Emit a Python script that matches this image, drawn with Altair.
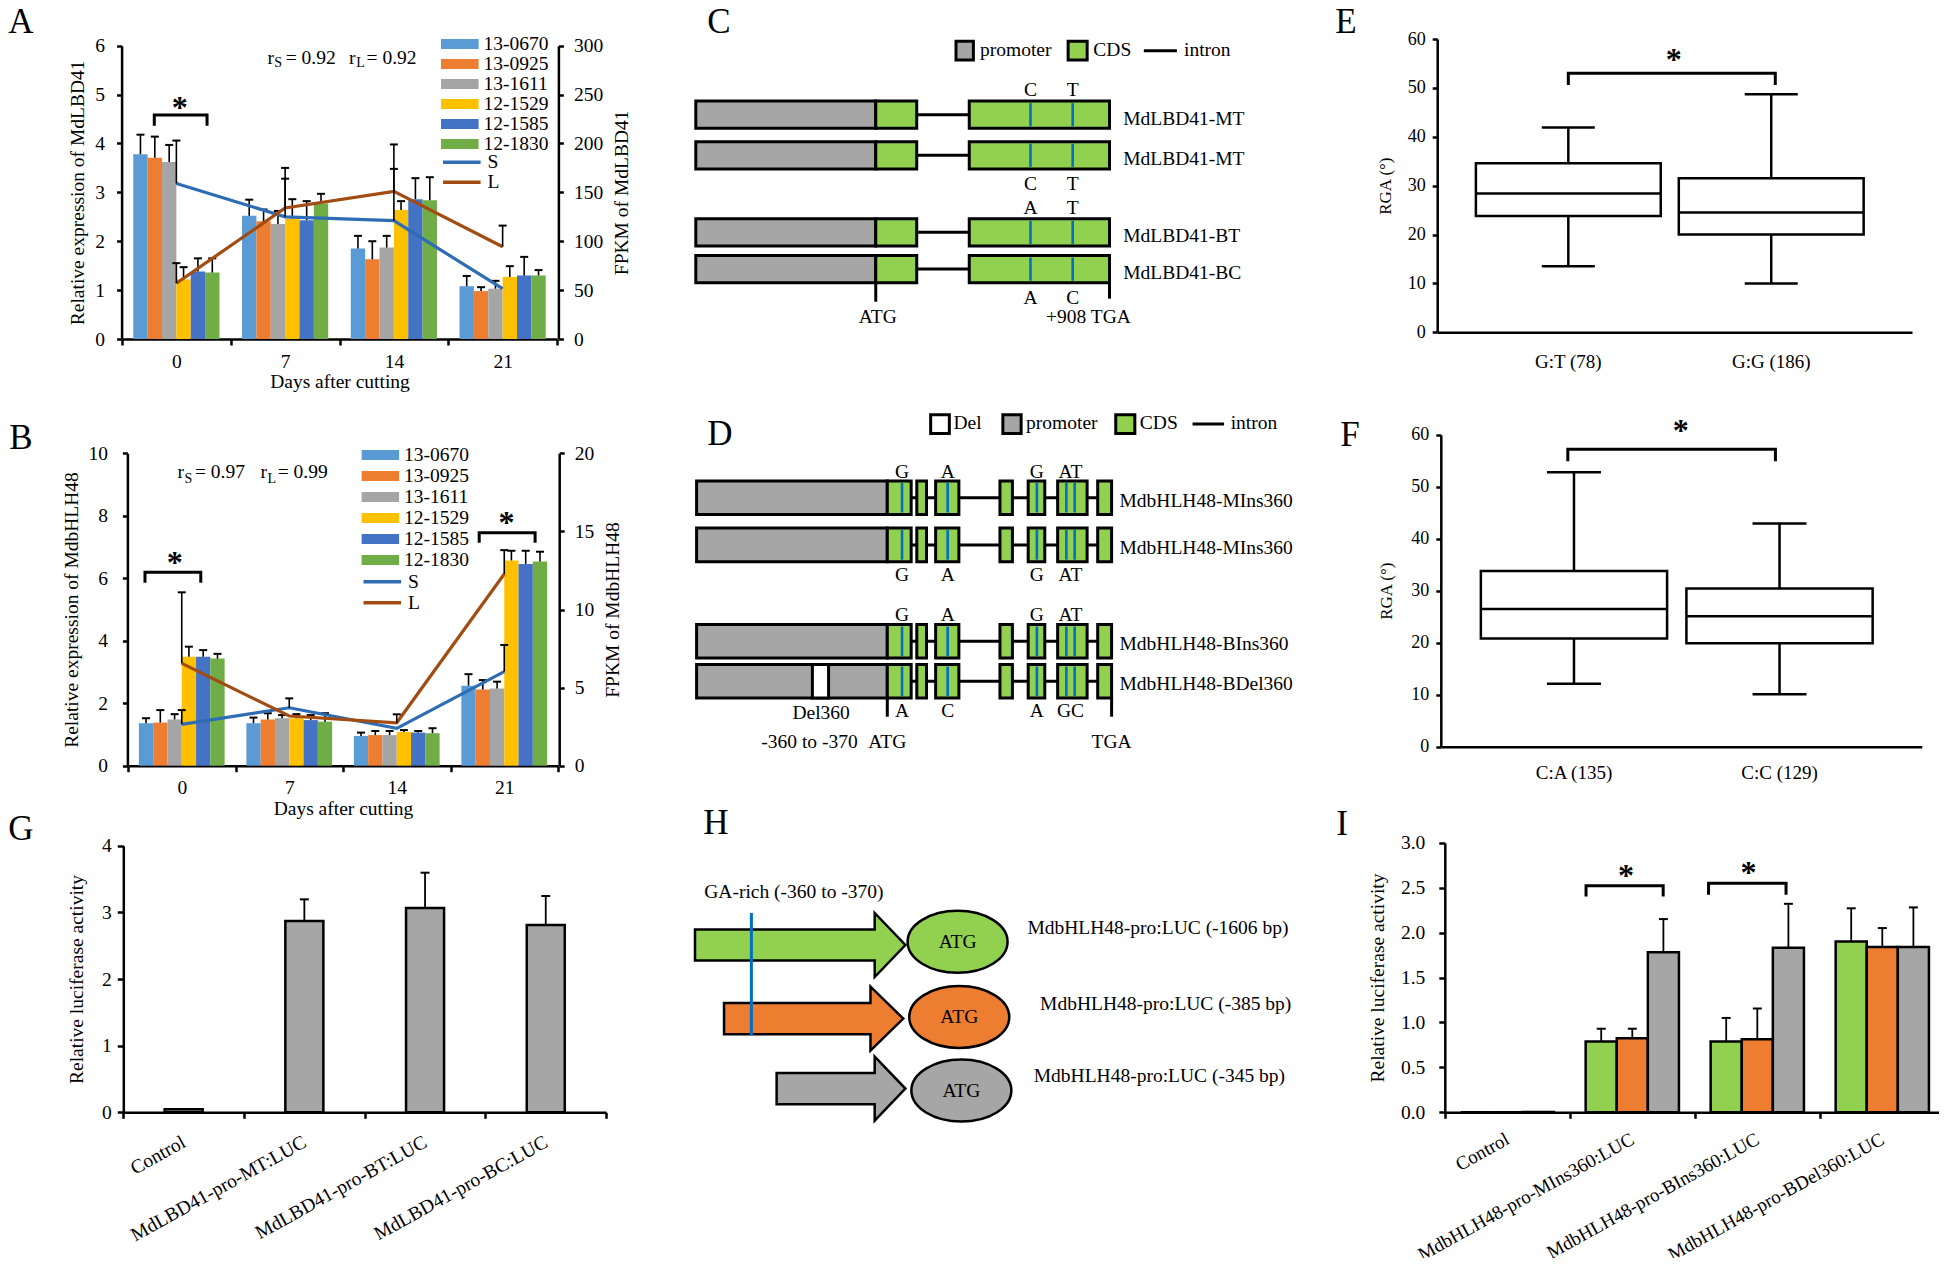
import altair as alt
import pandas as pd

# ======================= chart values =======================
days = ["0", "7", "14", "21"]
cultivars = ["13-0670", "13-0925", "13-1611", "12-1529", "12-1585", "12-1830"]
cultivar_colors = ["#5B9BD5", "#ED7D31", "#A5A5A5", "#FFC000", "#4472C4", "#70AD47"]
fpkm_series = ["S", "L"]
fpkm_colors = ["#2E6DB4", "#A34C12"]

# Panel A (rows = days, columns = cultivars)
a_expr = [
    [3.78, 3.71, 3.62, 1.22, 1.38, 1.36],
    [2.52, 2.41, 2.35, 2.46, 2.43, 2.77],
    [1.85, 1.63, 1.87, 2.64, 2.86, 2.84],
    [1.08, 0.98, 1.03, 1.27, 1.30, 1.30],
]
a_expr_top = [
    [4.18, 4.14, 3.97, 1.47, 1.65, 1.65],
    [2.85, 2.65, 2.62, 2.86, 2.82, 2.97],
    [2.11, 2.00, 2.11, 2.82, 3.29, 3.31],
    [1.29, 1.06, 1.19, 1.49, 1.68, 1.41],
]
a_fpkm_S = [159, 125, 121, 51.5]
a_fpkm_L = [57, 134, 151, 94.4]
a_fpkm_S_top = [203, 164, 174, None]
a_fpkm_L_top = [77.6, 175, 199, 116]
a_r = ["0.92", "0.92"]

# Panel B
b_expr = [
    [1.36, 1.38, 1.48, 3.49, 3.49, 3.43],
    [1.36, 1.48, 1.52, 1.52, 1.46, 1.41],
    [0.95, 0.98, 0.98, 1.08, 1.06, 1.04],
    [2.56, 2.44, 2.47, 6.57, 6.46, 6.54],
]
b_expr_top = [
    [1.52, 1.78, 1.65, 3.81, 3.70, 3.58],
    [1.54, 1.68, 1.62, 1.65, 1.62, 1.68],
    [1.06, 1.11, 1.11, 1.14, 1.11, 1.20],
    [2.93, 2.74, 2.69, 6.88, 6.88, 6.85],
]
b_fpkm_S = [2.65, 3.71, 2.39, 6.02]
b_fpkm_L = [6.55, 3.18, 2.75, 12.27]
b_fpkm_S_top = [3.56, 4.31, None, 7.73]
b_fpkm_L_top = [11.1, None, 3.29, 13.8]
b_r = ["0.97", "0.99"]

# Panel E / F box plots (RGA, degrees)
e_groups = ["G:T (78)", "G:G (186)"]
e_low = [13.5, 10.0]
e_q1 = [23.8, 20.0]
e_median = [28.4, 24.5]
e_q3 = [34.6, 31.5]
e_high = [41.9, 48.7]

f_groups = ["C:A  (135)", "C:C (129)"]
f_low = [12.1, 10.1]
f_q1 = [20.8, 19.9]
f_median = [26.5, 25.1]
f_q3 = [33.8, 30.4]
f_high = [52.8, 42.9]

# Panel G
g_constructs = ["Control", "MdLBD41-pro-MT:LUC", "MdLBD41-pro-BT:LUC", "MdLBD41-pro-BC:LUC"]
g_activity = [0.045, 2.87, 3.065, 2.81]
g_activity_top = [None, 3.195, 3.595, 3.245]

# Panel I
i_constructs = ["Control", "MdbHLH48-pro-MIns360:LUC", "MdbHLH48-pro-BIns360:LUC",
                "MdbHLH48-pro-BDel360:LUC"]
i_fragments = ["-1606 bp", "-385 bp", "-345 bp"]
i_colors = ["#92D050", "#ED7D31", "#A6A6A6"]
i_activity = [[0.0, 0.0, 0.004], [0.787, 0.824, 1.78], [0.787, 0.813, 1.83], [1.90, 1.84, 1.84]]
i_activity_top = [[None, None, None], [0.93, 0.93, 2.15], [1.05, 1.155, 2.32], [2.27, 2.05, 2.28]]

# Panel C gene models (schematic units: 0 = promoter start, 100 = TGA)
c_names = ["MdLBD41-MT", "MdLBD41-MT", "MdLBD41-BT", "MdLBD41-BC"]
c_row_pos = [0.0, 1.015, 2.94, 3.86]
c_segments = [("promoter", 0, 43.5), ("CDS", 43.5, 53.4), ("CDS", 66.1, 100)]
c_introns = [(53.4, 66.1)]
c_snp_pos = [80.9, 91.1]
c_snp_alleles = [("C", "T"), ("C", "T"), ("A", "T"), ("A", "C")]
c_snp_side = [-1, 1, -1, 1]

# Panel D gene models
d_names = ["MdbHLH48-MIns360", "MdbHLH48-MIns360", "MdbHLH48-BIns360", "MdbHLH48-BDel360"]
d_row_pos = [0.0, 1.18, 3.59, 4.59]
d_segments = [("promoter", 0, 45.95), ("CDS", 45.95, 51.7), ("CDS", 53.06, 55.4),
              ("CDS", 57.6, 63.2), ("CDS", 73.1, 76.1), ("CDS", 79.9, 83.9),
              ("CDS", 87.0, 94.1), ("CDS", 96.65, 100)]
d_introns = [(51.7, 96.65)]
d_snp_pos = [49.5, 60.5, 82.0, 89.1, 91.1]
d_snp_label_pos = [49.5, 60.5, 82.0, 90.1]
d_snp_alleles = [("G", "A", "G", "AT"), ("G", "A", "G", "AT"), ("G", "A", "G", "AT"), ("A", "C", "A", "GC")]
d_snp_side = [-1, 1, -1, 1]
d_deletion = [(3, 27.9, 31.8)]

# Panel H promoter constructs
h_constructs = ["MdbHLH48-pro:LUC (-1606 bp)", "MdbHLH48-pro:LUC (-385 bp)", "MdbHLH48-pro:LUC (-345 bp)"]
h_start = [0, 13.8, 38.8]
h_colors = ["#92D050", "#ED7D31", "#A6A6A6"]

panel_letters = ["A", "B", "C", "D", "E", "F", "G", "H", "I"]

# ======================= layout =======================
M = 8
W, H = 1931, 1250
FONT = "Liberation Serif"
FS = 19.5
GREY = "#A6A6A6"
GREEN = "#92D050"
SNP_BLUE = "#0070C0"
diag_fill = {"promoter": GREY, "CDS": GREEN, "Del": "#FFFFFF"}


def p(v):
    return v - M


def qscale(domain, r0, r1):
    return alt.Scale(domain=domain, range=[p(r0), p(r1)], nice=False, zero=False)


def bscale(domain, r0, r1, po=0.0, align=0.5):
    return alt.Scale(domain=domain, range=[p(r0), p(r1)], paddingInner=0, paddingOuter=po, align=align)


def X(field, scale, axis=None):
    return alt.X(field, scale=scale, axis=axis)


def Y(field, scale, axis=None):
    return alt.Y(field, scale=scale, axis=axis)


def text_layer(rows, xs, ys, align="center", size=FS, baseline="middle", **kw):
    df = pd.DataFrame(rows, columns=["x", "y", "t"])
    return alt.Chart(df).mark_text(font=FONT, fontSize=size, align=align, baseline=baseline,
                                   color="black", **kw).encode(
        x=X("x:Q", xs), y=Y("y:Q", ys), text="t:N")


def bracket_layer(brackets, xs, ys):
    rows = []
    for i, (x1, x2, yt, yl) in enumerate(brackets):
        for j, (bx, by) in enumerate([(x1, yl), (x1, yt), (x2, yt), (x2, yl)]):
            rows.append(dict(id=i, o=j, bx=bx, by=by))
    return alt.Chart(pd.DataFrame(rows)).mark_line(color="black", strokeWidth=3).encode(
        x=X("bx:Q", xs), y=Y("by:Q", ys), detail="id:N", order="o:Q")


def star_layer(stars, xs, ys):
    df = pd.DataFrame(stars, columns=["x", "y"])
    return alt.Chart(df).mark_text(text="*", font=FONT, fontSize=32, fontWeight="bold",
                                   baseline="middle", dy=6, color="black").encode(
        x=X("x:Q", xs), y=Y("y:Q", ys))


RECT_SYM = "M-1,-0.266H1V0.266H-1Z"
SYM = 37.6


def expr_panel(expr, top, fS, fL, fS_top, fL_top, r, L):
    xr, yr = L["xr"], L["yr"]
    step = (xr[1] - xr[0]) / 4
    xs = bscale(days, xr[0], xr[1])
    xos = alt.Scale(domain=cultivars, range=[0, step], paddingInner=0, paddingOuter=L["po"])
    ys = qscale([0, L["ymax"]], yr[0], yr[1])
    rs = qscale([0, L["rmax"]], yr[0], yr[1])
    qx = qscale([-0.5, 3.5], xr[0], xr[1])
    df = pd.DataFrame([dict(day=d, cultivar=c, value=expr[i][j], top=top[i][j])
                       for i, d in enumerate(days) for j, c in enumerate(cultivars)])
    xna = X("day:N", xs)
    xo = alt.XOffset("cultivar:N", scale=xos)
    out = []
    out.append(alt.Chart(df).mark_bar().encode(
        x=X("day:N", xs, alt.Axis(orient="bottom", offset=p(yr[0]) - H, title="Days after cutting",
                                  tickBand="extent", labelAngle=0, tickSize=6, labelPadding=7,
                                  titlePadding=2)),
        xOffset=xo,
        y=Y("value:Q", ys, alt.Axis(orient="left", offset=-p(L["lx"]), title=L["ytitle"],
                                    values=L["yvals"], tickSize=5, labelPadding=L["llp"],
                                    titlePadding=L["ltp"])),
        color=alt.Color("cultivar:N", scale=alt.Scale(domain=cultivars, range=cultivar_colors),
                        legend=alt.Legend(orient="none", legendX=p(L["legx"]), legendY=p(L["legy"]),
                                          title=None, symbolType=RECT_SYM, symbolSize=SYM ** 2,
                                          symbolStrokeWidth=0, labelOffset=4.6, clipHeight=L["rowh"],
                                          rowPadding=L["rowpad"], padding=0)),
    ))
    out.append(alt.Chart(df).mark_rule(color="black", strokeWidth=1.6).encode(
        x=xna, xOffset=xo, y=Y("value:Q", ys), y2="top:Q"))
    out.append(alt.Chart(df).mark_tick(color="black", orient="horizontal", size=8, thickness=2,
                                       opacity=1).encode(
        x=xna, xOffset=xo, y=Y("top:Q", ys)))
    dfl = pd.DataFrame([dict(day=d, i=k, series=s, fpkm=v)
                        for s, vals in (("S", fS), ("L", fL)) for k, (d, v) in enumerate(zip(days, vals))])
    out.append(alt.Chart(dfl).mark_line(strokeWidth=3.2).encode(
        x=xna,
        y=Y("fpkm:Q", rs, alt.Axis(orient="right", offset=p(L["rx"]) - W, title=L["rtitle"],
                                   titleAngle=270, titleBaseline="top", values=L["rvals"],
                                   tickSize=5, labelPadding=10, titlePadding=L["rtp"])),
        color=alt.Color("series:N", scale=alt.Scale(domain=fpkm_series, range=fpkm_colors),
                        legend=alt.Legend(orient="none", legendX=p(L["legx"]), legendY=p(L["legy2"]),
                                          title=None, symbolType="stroke", symbolSize=SYM ** 2,
                                          symbolStrokeWidth=3.5, labelOffset=4.6, clipHeight=L["rowh"],
                                          rowPadding=L["rowpad"], padding=0)),
        order="i:Q",
    ))
    dfe = pd.DataFrame([dict(day=d, fpkm=v, top=t)
                        for vals, tops in ((fS, fS_top), (fL, fL_top))
                        for d, v, t in zip(days, vals, tops) if t is not None])
    out.append(alt.Chart(dfe).mark_rule(color="black", strokeWidth=1.6).encode(
        x=xna, y=Y("fpkm:Q", rs), y2="top:Q"))
    out.append(alt.Chart(dfe).mark_tick(color="black", orient="horizontal", size=8, thickness=2,
                                        opacity=1).encode(x=xna, y=Y("top:Q", rs)))
    out.append(bracket_layer(L["brackets"], qx, ys))
    out.append(star_layer(L["stars"], qx, ys))
    ax, ay, sy = L["ann"]
    out.append(text_layer([(ax[0], ay, "r"), (ax[2], ay, "= " + r[0]), (ax[3], ay, "r"),
                           (ax[5], ay, "= " + r[1])], qx, ys, align="left"))
    out.append(text_layer([(ax[1], sy, "S"), (ax[4], sy, "L")], qx, ys, align="left", size=14))
    return out


LAY_A = dict(xr=(122, 557), yr=(339.0, 45.7), lx=121.6, rx=558.4, ymax=6, yvals=list(range(7)),
             rmax=300, rvals=list(range(0, 301, 50)), po=0.785, legx=440.8, legy=34.4, legy2=152.5,
             rowh=19.3, rowpad=-1.6, llp=12, ltp=7, rtp=10,
             ytitle="Relative expression of MdLBD41", rtitle="FPKM of MdLBD41",
             brackets=[(-0.203, 0.282, 4.58, 4.36)], stars=[(0.03, 4.85)],
             ann=([0.837, 0.90, 1.005, 1.587, 1.654, 1.749], 5.75, 5.64))
LAY_B = dict(xr=(128, 558), yr=(765.7, 453.3), lx=127.4, rx=559.2, ymax=10, yvals=[0, 2, 4, 6, 8, 10],
             rmax=20, rvals=[0, 5, 10, 15, 20], po=0.76, legx=361.3, legy=444.5, legy2=571.2,
             rowh=21, rowpad=0, llp=15, ltp=6, rtp=10,
             ytitle="Relative expression of MdbHLH48", rtitle="FPKM of MdbHLH48",
             brackets=[(-0.342, 0.177, 6.19, 5.86), (2.767, 3.287, 7.46, 7.14)],
             stars=[(-0.066, 6.69), (3.02, 7.97)],
             ann=([-0.039, 0.026, 0.123, 0.732, 0.797, 0.892], 9.40, 9.17))


def band_centers(r0, r1, n, po, align):
    step = (r1 - r0) / (n + 2 * po)
    start = r0 + (r1 - r0 - step * n) * align
    return [start + step * (k + 0.5) for k in range(n)], step


def box_panel(groups, low, q1, med, q3, high, L):
    xr, yr = L["xr"], L["yr"]
    xs = bscale(groups, xr[0], xr[1], L["po"], L["align"])
    centers, step = band_centers(xr[0], xr[1], 2, L["po"], L["align"])
    qx = qscale([0, 1], centers[0], centers[1])
    ys = qscale([0, 60], yr[0], yr[1])
    df = pd.DataFrame(dict(g=groups, low=low, q1=q1, med=med, q3=q3, high=high))
    xna = X("g:N", xs)
    out = [
        alt.Chart(df).mark_rule(color="black", strokeWidth=2.5).encode(
            x=xna, y=Y("low:Q", ys), y2="high:Q"),
        alt.Chart(df).mark_bar(fill="white", stroke="black", strokeWidth=2.5,
                               width=alt.RelativeBandSize(L["bw"])).encode(
            x=X("g:N", xs, alt.Axis(orient="bottom", offset=p(yr[0]) - H, title=None, ticks=False,
                                    labelAngle=0, labelPadding=L["lp"], labelFontSize=19)),
            y=Y("q1:Q", ys, alt.Axis(orient="left", offset=-p(xr[0]), title="RGA (°)",
                                     titleFontSize=17, values=list(range(0, 61, 10)), tickSize=5,
                                     labelPadding=7, titlePadding=L["tp"], labelFontSize=18)),
            y2="q3:Q"),
        alt.Chart(df).mark_tick(color="black", orient="horizontal", size=L["cap"], thickness=2.5,
                                opacity=1).encode(x=xna, y=Y("low:Q", ys)),
        alt.Chart(df).mark_tick(color="black", orient="horizontal", size=L["cap"], thickness=2.5,
                                opacity=1).encode(x=xna, y=Y("high:Q", ys)),
        alt.Chart(df).mark_tick(color="black", orient="horizontal", size=L["bw"] * step,
                                thickness=2.5, opacity=1).encode(x=xna, y=Y("med:Q", ys)),
        bracket_layer(L["brackets"], qx, ys),
        star_layer(L["stars"], qx, ys),
    ]
    return out


LAY_E = dict(xr=(1437.2, 1912), yr=(332.3, 39), po=0.17, align=0.43, bw=0.911, cap=53, lp=20, tp=13,
             brackets=[(0, 1.02, 53.0, 50.6)], stars=[(0.52, 57.0)])
LAY_F = dict(xr=(1440.8, 1921.8), yr=(746.7, 434.7), po=0.17, align=0.435, bw=0.906, cap=54, lp=17,
             tp=15, brackets=[(-0.03, 0.98, 57.2, 54.9)], stars=[(0.52, 61.9)])


def luc_axis_x(yb, size=FS, pad=22):
    return alt.Axis(orient="bottom", offset=p(yb) - H, title=None, tickBand="extent", labelAngle=331,
                    labelAlign="right", labelBaseline="middle", labelPadding=pad, tickSize=6,
                    labelFontSize=size)


def g_panel():
    xr, yr = (123.3, 606.1), (1112.3, 845.7)
    xs = bscale(g_constructs, xr[0], xr[1])
    ys = qscale([0, 4], yr[0], yr[1])
    df = pd.DataFrame(dict(cat=g_constructs, value=g_activity))
    dfe = pd.DataFrame([dict(cat=c, value=v, top=t) for c, v, t in
                        zip(g_constructs, g_activity, g_activity_top) if t is not None])
    xna = X("cat:N", xs)
    return [
        alt.Chart(df).mark_bar(color=GREY, stroke="black", strokeWidth=2.5,
                               width=alt.RelativeBandSize(0.315)).encode(
            x=X("cat:N", xs, luc_axis_x(yr[0])),
            y=Y("value:Q", ys, alt.Axis(orient="left", offset=-p(xr[0]),
                                        title="Relative luciferase activity", values=[0, 1, 2, 3, 4],
                                        tickSize=6, labelPadding=6, titlePadding=15))),
        alt.Chart(dfe).mark_rule(color="black", strokeWidth=1.8).encode(
            x=xna, y=Y("value:Q", ys), y2="top:Q"),
        alt.Chart(dfe).mark_tick(color="black", orient="horizontal", size=9, thickness=2,
                                 opacity=1).encode(x=xna, y=Y("top:Q", ys)),
    ]


def i_panel():
    xr, yr = (1444.8, 1944.8), (1112.3, 842.7)
    step = (xr[1] - xr[0]) / 4
    xs = bscale(i_constructs, xr[0], xr[1])
    xos = alt.Scale(domain=i_fragments, range=[0, step], paddingInner=0, paddingOuter=0.51)
    ys = qscale([0, 3], yr[0], yr[1])
    qx = qscale([-0.5, 3.5], xr[0], xr[1])
    df = pd.DataFrame([dict(cat=c, frag=f, value=i_activity[a][b], top=i_activity_top[a][b])
                       for a, c in enumerate(i_constructs) for b, f in enumerate(i_fragments)])
    dfe = df.dropna()
    xna = X("cat:N", xs)
    xo = alt.XOffset("frag:N", scale=xos)
    return [
        alt.Chart(df).mark_bar(stroke="black", strokeWidth=2.5).encode(
            x=X("cat:N", xs, luc_axis_x(yr[0], size=19, pad=19)), xOffset=xo,
            y=Y("value:Q", ys, alt.Axis(orient="left", offset=-p(xr[0]),
                                        title="Relative luciferase activity",
                                        values=[0, 0.5, 1, 1.5, 2, 2.5, 3], format=".1f",
                                        tickSize=6, labelPadding=14, titlePadding=13)),
            color=alt.Color("frag:N", scale=alt.Scale(domain=i_fragments, range=i_colors), legend=None)),
        alt.Chart(dfe).mark_rule(color="black", strokeWidth=1.8).encode(
            x=xna, xOffset=xo, y=Y("value:Q", ys), y2="top:Q"),
        alt.Chart(dfe).mark_tick(color="black", orient="horizontal", size=9, thickness=2,
                                 opacity=1).encode(x=xna, xOffset=xo, y=Y("top:Q", ys)),
        bracket_layer([(0.63, 1.247, 2.52, 2.40), (1.61, 2.23, 2.55, 2.42)], qx, ys),
        star_layer([(0.95, 2.70), (1.93, 2.73)], qx, ys),
    ]


def gene_panel(names, row_pos, segments, introns, snp_pos, snp_label_pos, alleles, sides, L,
               deletions=()):
    xs = qscale([0, 100], L["xr"][0], L["xr"][1])
    ys = qscale(L["ydom"], L["yr"][0], L["yr"][1])
    half = L["half"]
    rects, rules, snps, allele_txt, name_txt = [], [], [], [], []
    for r, (nm, yc) in enumerate(zip(names, row_pos)):
        for kind, x0, x1 in segments:
            rects.append(dict(x0=x0, x1=x1, y0=yc - half, y1=yc + half, fill=diag_fill[kind]))
        for ri, x0, x1 in deletions:
            if ri == r:
                rects.append(dict(x0=x0, x1=x1, y0=yc - half, y1=yc + half, fill=diag_fill["Del"]))
        for x0, x1 in introns:
            rules.append(dict(x0=x0, x1=x1, y=yc))
        for sx in snp_pos:
            snps.append(dict(x=sx, y0=yc - half + 0.05, y1=yc + half - 0.05))
        ly = yc + (L["above"] if sides[r] < 0 else L["below"])
        for sx, a in zip(snp_label_pos, alleles[r]):
            allele_txt.append((sx, ly, a))
        name_txt.append((L["name_x"], yc + L["name_dy"], nm))
    # legend swatches drawn in the diagram
    for kind, x0, x1 in L["leg_boxes"]:
        rects.append(dict(x0=x0, x1=x1, y0=L["leg_y"] - L["leg_h"], y1=L["leg_y"] + L["leg_h"],
                          fill=diag_fill[kind]))
    rules.append(dict(x0=L["leg_line"][0], x1=L["leg_line"][1], y=L["leg_y"]))
    df_r = pd.DataFrame(rules)
    df_rect = pd.DataFrame(rects)
    df_snp = pd.DataFrame(snps)
    df_tick = pd.DataFrame(L["ticks"], columns=["x", "y0", "y1"])
    return [
        alt.Chart(df_r).mark_rule(color="black", strokeWidth=3).encode(
            x=X("x0:Q", xs), x2="x1:Q", y=Y("y:Q", ys)),
        alt.Chart(df_rect).mark_rect(stroke="black", strokeWidth=3).encode(
            x=X("x0:Q", xs), x2="x1:Q", y=Y("y0:Q", ys), y2="y1:Q",
            color=alt.Color("fill:N", scale=None)),
        alt.Chart(df_snp).mark_rule(color=SNP_BLUE, strokeWidth=2.6).encode(
            x=X("x:Q", xs), y=Y("y0:Q", ys), y2="y1:Q"),
        alt.Chart(df_tick).mark_rule(color="black", strokeWidth=3).encode(
            x=X("x:Q", xs), y=Y("y0:Q", ys), y2="y1:Q"),
        text_layer(allele_txt, xs, ys),
        text_layer(name_txt, xs, ys, align="left"),
        text_layer(L["leg_text"], xs, ys, align="left"),
        text_layer(L["bottom_text"], xs, ys),
    ]


LAY_C = dict(xr=(695.8, 1109.5), yr=(34.7, 334.7), ydom=[-2, 5.5], half=0.34, above=-0.62, below=0.72,
             name_x=103.3, name_dy=0.1,
             leg_boxes=[("promoter", 62.9, 67.1), ("CDS", 90.0, 94.6)], leg_y=-1.6, leg_h=0.235,
             leg_line=(108.3, 116.3),
             leg_text=[(68.7, -1.62, "promoter"), (96.1, -1.62, "CDS"), (118.0, -1.62, "intron")],
             ticks=[(43.5, 4.2, 4.675), (100, 4.2, 4.6)],
             bottom_text=[(44.0, 5.05, "ATG"), (94.9, 5.05, "+908 TGA")])
LAY_D = dict(xr=(696.6, 1111.6), yr=(397.7, 761.7), ydom=[-2.5, 6.6], half=0.42, above=-0.65,
             below=0.75, name_x=101.9, name_dy=0.07,
             leg_boxes=[("Del", 56.4, 60.9), ("promoter", 73.8, 78.2), ("CDS", 101.0, 105.6)],
             leg_y=-1.84, leg_h=0.235, leg_line=(119.5, 127.1),
             leg_text=[(61.9, -1.86, "Del"), (79.4, -1.86, "promoter"), (106.8, -1.86, "CDS"),
                       (128.7, -1.86, "intron")],
             ticks=[(45.95, 5.0, 5.475), (100, 5.0, 5.475)],
             bottom_text=[(30.0, 5.375, "Del360"), (27.2, 6.1, "-360 to -370"), (45.95, 6.1, "ATG"),
                          (100, 6.1, "TGA")])

ELLIPSE = "M-1,0A1,0.62,0,1,0,1,0A1,0.62,0,1,0,-1,0Z"


def h_panel():
    xs = qscale([0, 100], 695, 905.4)
    ys = qscale([-3.5, 5], 805, 1145)
    base = [85.4, 83.4, 85.4]
    tip = [100, 99.0, 100]
    row_y = [0, 1.84, 3.59]
    body, head = 0.39, 0.8
    out = []
    for k in range(3):
        cy = row_y[k]
        pts = [(h_start[k], cy - body, cy + body), (base[k], cy - body, cy + body),
               (base[k] + 0.01, cy - head, cy + head), (tip[k], cy, cy)]
        df_arrow = pd.DataFrame([dict(x=x, y0=y0, y1=y1) for x, y0, y1 in pts])
        out.append(alt.Chart(df_arrow).mark_area(stroke="black", strokeWidth=2.5, opacity=1,
                                                 fill=h_colors[k], fillOpacity=1).encode(
            x=X("x:Q", xs), y=Y("y0:Q", ys), y2="y1:Q"))
    ell = pd.DataFrame(dict(x=[124.8, 125.6, 126.6], y=[-0.08, 1.8, 3.64], fill=h_colors))
    out += [
        alt.Chart(pd.DataFrame(dict(x=[26.8], y0=[-0.8], y1=[2.26]))).mark_rule(
            color=SNP_BLUE, strokeWidth=3).encode(x=X("x:Q", xs), y=Y("y0:Q", ys), y2="y1:Q"),
        alt.Chart(ell).mark_point(shape=ELLIPSE, size=10000, filled=True, opacity=1, stroke="black",
                                  strokeWidth=2.5).encode(
            x=X("x:Q", xs), y=Y("y:Q", ys), color=alt.Color("fill:N", scale=None)),
        text_layer([(x, y, "ATG") for x, y in zip(ell.x, ell.y)], xs, ys),
        text_layer([(158.0, -0.43, h_constructs[0]), (164.0, 1.47, h_constructs[1]),
                    (161.0, 3.27, h_constructs[2]), (4.4, -1.33, "GA-rich (-360 to -370)")],
                   xs, ys, align="left"),
    ]
    return out


letter_centers = [(21, 21), (21, 437), (719, 21), (720, 433), (1346, 21), (1350, 434), (21, 828),
                  (716, 822), (1342, 823)]

layers = []
layers += expr_panel(a_expr, a_expr_top, a_fpkm_S, a_fpkm_L, a_fpkm_S_top, a_fpkm_L_top, a_r, LAY_A)
layers += expr_panel(b_expr, b_expr_top, b_fpkm_S, b_fpkm_L, b_fpkm_S_top, b_fpkm_L_top, b_r, LAY_B)
layers += gene_panel(c_names, c_row_pos, c_segments, c_introns, c_snp_pos, c_snp_pos, c_snp_alleles,
                     c_snp_side, LAY_C)
layers += gene_panel(d_names, d_row_pos, d_segments, d_introns, d_snp_pos, d_snp_label_pos,
                     d_snp_alleles, d_snp_side, LAY_D, d_deletion)
layers += box_panel(e_groups, e_low, e_q1, e_median, e_q3, e_high, LAY_E)
layers += box_panel(f_groups, f_low, f_q1, f_median, f_q3, f_high, LAY_F)
layers += g_panel()
layers += h_panel()
layers += i_panel()
for t, (lx, ly) in zip(panel_letters, letter_centers):
    layers.append(alt.Chart(pd.DataFrame({"t": [t]})).mark_text(
        font=FONT, fontSize=35, align="center", baseline="middle", color="black").encode(
        text="t:N", x=alt.value(p(lx)), y=alt.value(p(ly) + 1)))

chart = (
    alt.layer(*layers)
    .resolve_scale(x="independent", y="independent", xOffset="independent", color="independent")
    .resolve_axis(x="independent", y="independent")
    .resolve_legend(color="independent")
    .properties(width=W, height=H, padding=0, autosize=alt.AutoSizeParams(type="none"))
    .configure_view(stroke=None)
    .configure_axis(grid=False, labelFont=FONT, titleFont=FONT, labelFontSize=FS, titleFontSize=FS,
                    titleFontWeight="normal", labelColor="black", titleColor="black",
                    domainColor="black", tickColor="black", domainWidth=2.5, tickWidth=2.5,
                    labelOverlap=False, labelLimit=0, zindex=1)
    .configure_legend(labelFont=FONT, labelFontSize=FS, labelColor="black", labelLimit=0)
)

chart.save("out.html", embed_options={"renderer": "svg", "actions": False})
